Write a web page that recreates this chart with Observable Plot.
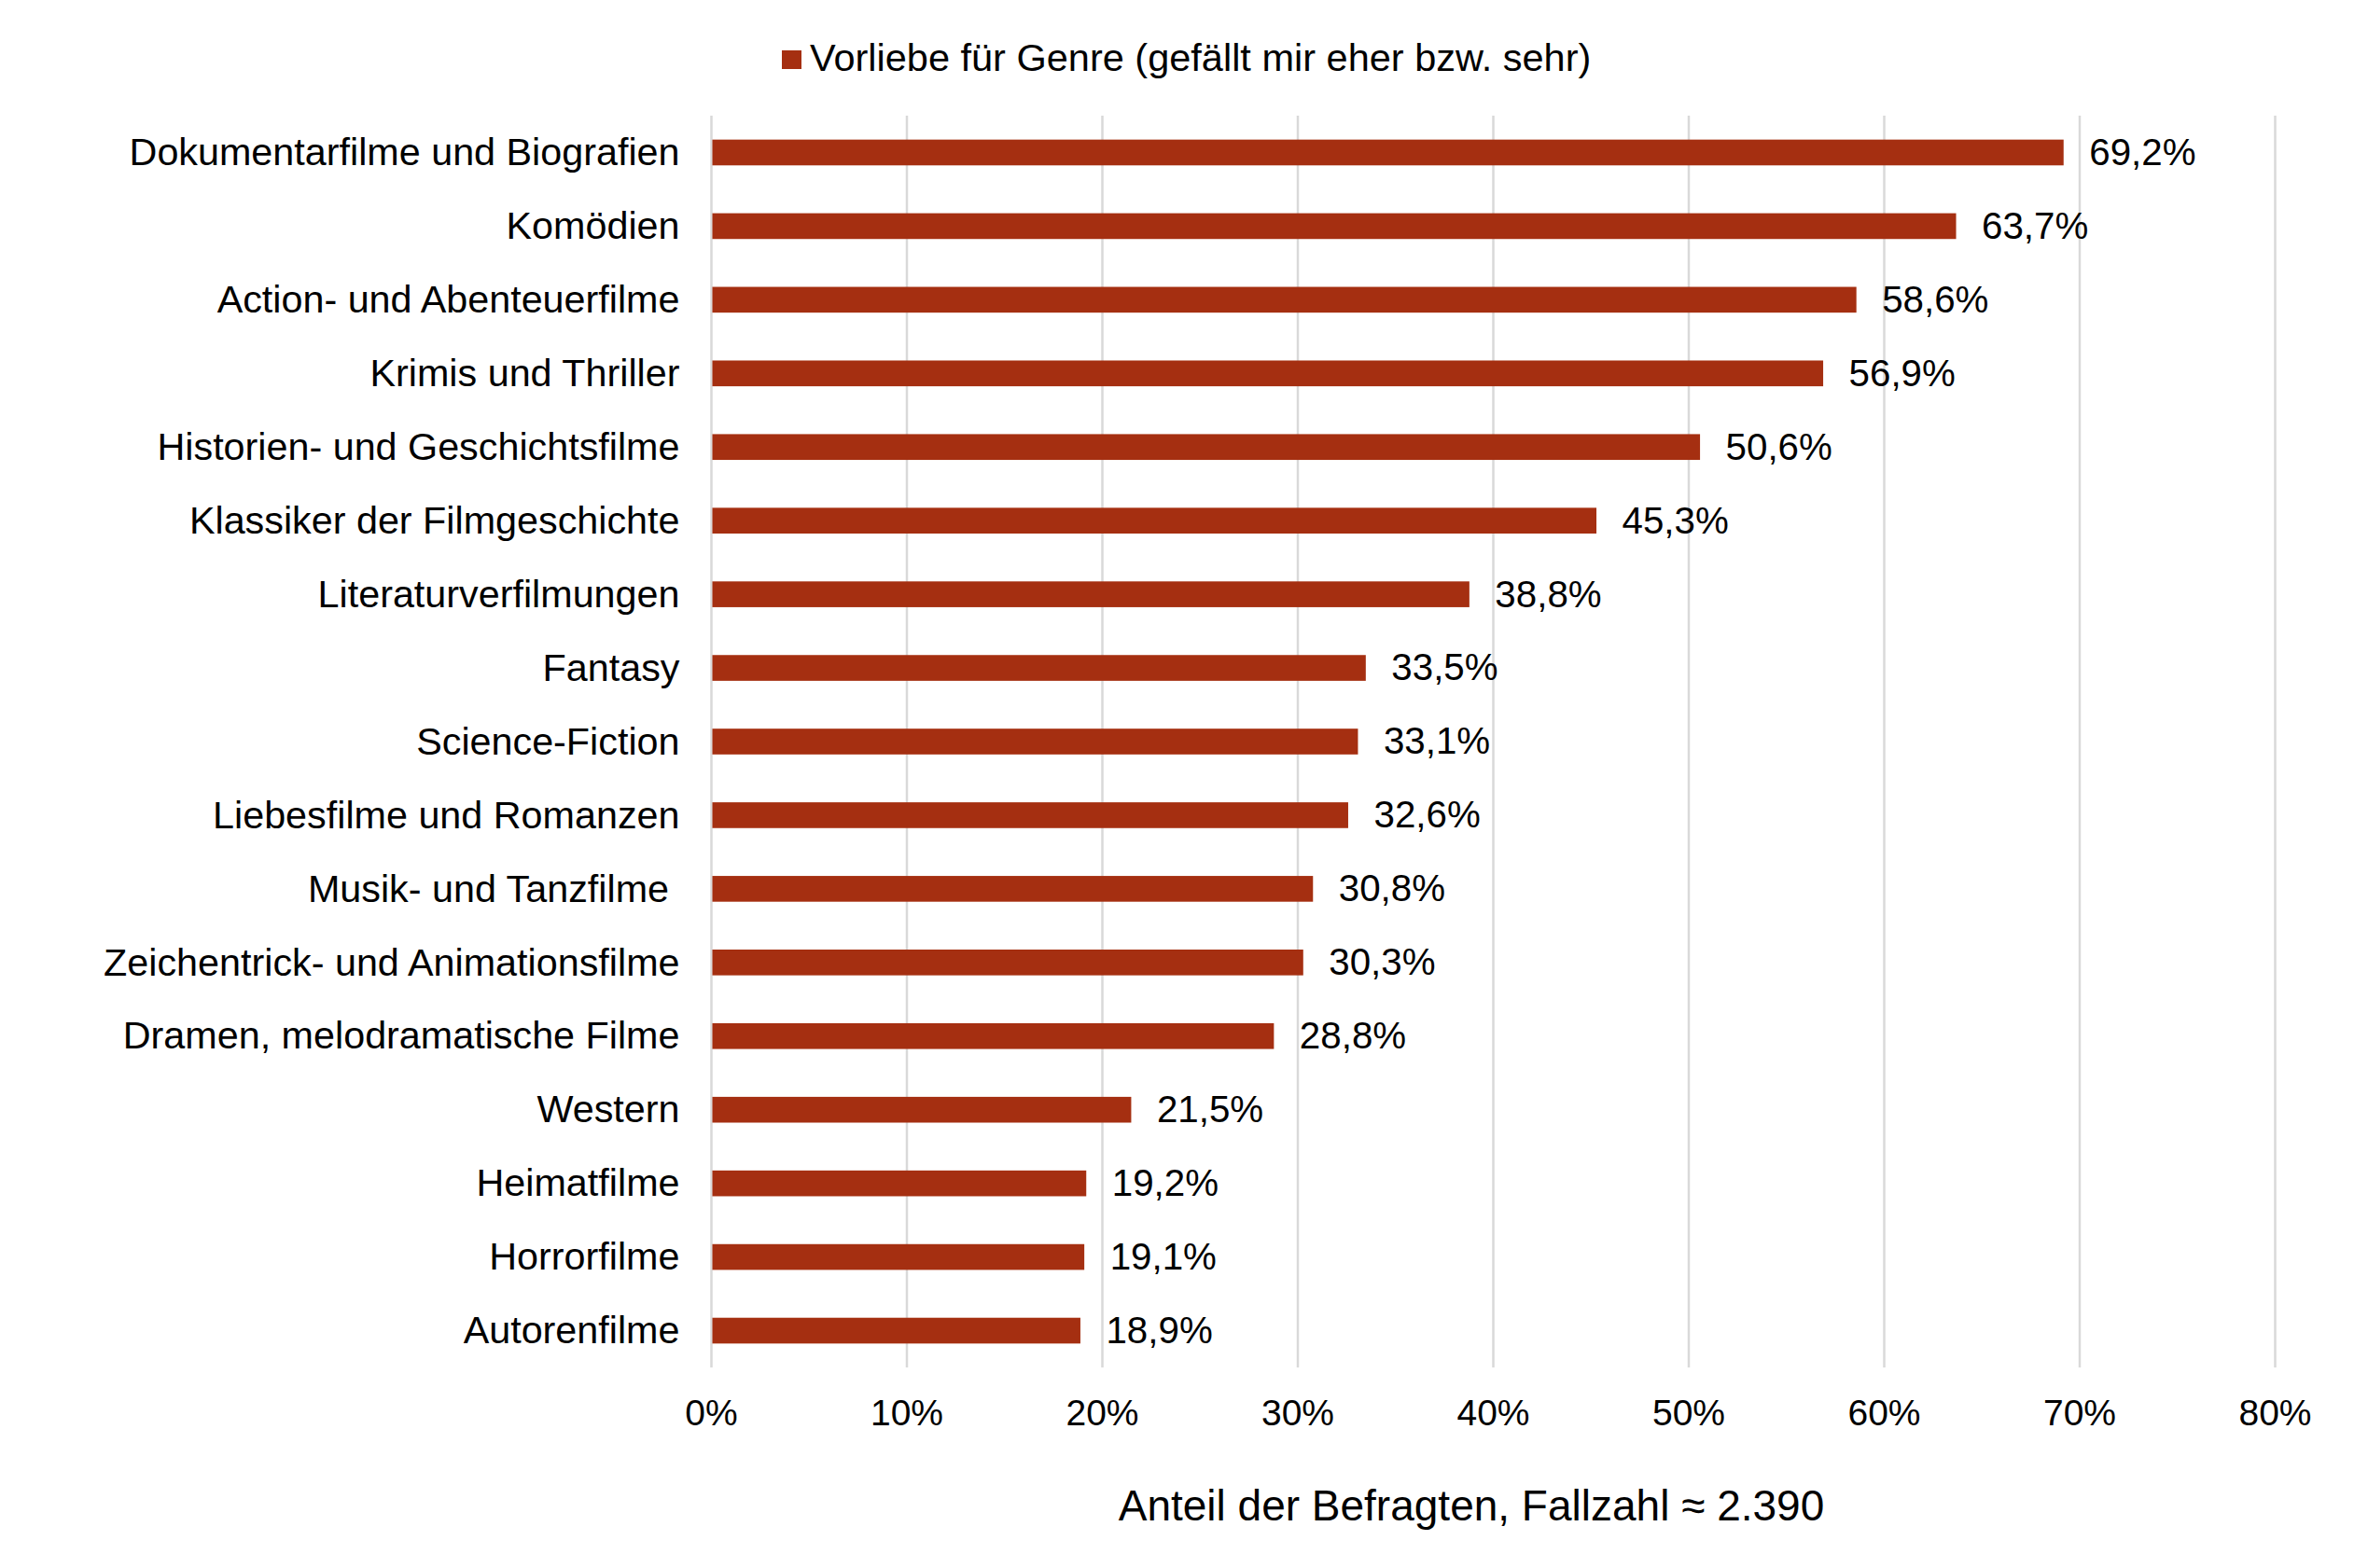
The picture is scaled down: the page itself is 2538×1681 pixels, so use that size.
<!DOCTYPE html>
<html>
<head>
<meta charset="utf-8">
<script src="https://cdn.jsdelivr.net/npm/d3@7"></script>
<script src="https://cdn.jsdelivr.net/npm/@observablehq/plot@0.6"></script>
<style>
  html, body { margin: 0; padding: 0; background: #fff; }
  body { width: 2538px; height: 1681px; position: relative; font-family: "Liberation Sans", Arial, sans-serif; color: #000; overflow: hidden; }
  #legend { position: relative; height: 100px; }
  #legend .swatch { position: absolute; left: 838px; top: 54px; width: 21px; height: 20px; background: #a52f11; }
  #legend .label { position: absolute; left: 868px; top: 41px; font-size: 41.5px; line-height: 41px; white-space: nowrap; }
  #chart svg { display: block; }
  #caption { position: absolute; left: 762px; width: 1630px; top: 1591px; font-size: 46px; line-height: 46px; text-align: center; white-space: nowrap; }
</style>
</head>
<body>
<div id="legend"><div class="swatch"></div><div class="label"></div></div>
<div id="chart"></div>
<div id="caption"></div>
<script>
const legendLabel = "Vorliebe für Genre (gefällt mir eher bzw. sehr)";
const axisTitle = "Anteil der Befragten, Fallzahl ≈ 2.390";
const genres = [
  "Dokumentarfilme und Biografien",
  "Komödien",
  "Action- und Abenteuerfilme",
  "Krimis und Thriller",
  "Historien- und Geschichtsfilme",
  "Klassiker der Filmgeschichte",
  "Literaturverfilmungen",
  "Fantasy",
  "Science-Fiction",
  "Liebesfilme und Romanzen",
  "Musik- und Tanzfilme\u00a0",
  "Zeichentrick- und Animationsfilme",
  "Dramen, melodramatische Filme",
  "Western",
  "Heimatfilme",
  "Horrorfilme",
  "Autorenfilme"
];
const shares = [69.2, 63.7, 58.6, 56.9, 50.6, 45.3, 38.8, 33.5, 33.1, 32.6, 30.8, 30.3, 28.8, 21.5, 19.2, 19.1, 18.9];
const xTicks = [0, 10, 20, 30, 40, 50, 60, 70, 80];

const data = genres.map((g, i) => ({genre: g, value: shares[i]}));
const barColor = "#a52f11";
const fmt = v => v.toFixed(1).replace(".", ",") + "%";

document.querySelector("#legend .label").textContent = legendLabel;
document.getElementById("caption").textContent = axisTitle;

const chart = Plot.plot({
  width: 2538,
  height: 1460,
  marginTop: 24,
  marginBottom: 94,
  marginLeft: 762,
  marginRight: 100,
  style: {fontFamily: "'Liberation Sans', Arial, sans-serif", color: "#000", background: "#fff"},
  x: {domain: [0, 80]},
  y: {domain: genres, paddingInner: 0.65, paddingOuter: 0.325, round: false},
  marks: [
    Plot.gridX(xTicks, {stroke: "#d9d9d9", strokeOpacity: 1, strokeWidth: 2.5}),
    Plot.barX(data, {x: "value", y: "genre", fill: barColor, insetLeft: 1.5}),
    Plot.text(data, {x: "value", y: "genre", text: d => fmt(d.value), textAnchor: "start", dx: 27, fontSize: 40.3, fill: "#000"}),
    Plot.axisY({tickSize: 0, tickPadding: 34, fontSize: 41.3, label: null, fill: "#000"}),
    Plot.axisX({ticks: xTicks, tickSize: 0, tickPadding: 34, fontSize: 39, tickFormat: d => d + "%", label: null, fill: "#000"})
  ]
});
document.getElementById("chart").appendChild(chart);
</script>
</body>
</html>
